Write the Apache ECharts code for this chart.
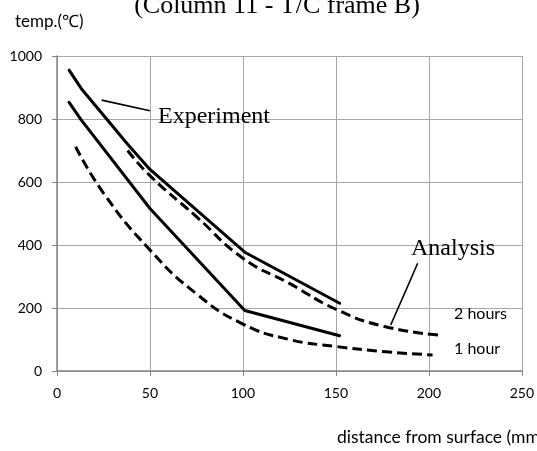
<!DOCTYPE html>
<html>
<head>
<meta charset="utf-8">
<script src="https://cdn.jsdelivr.net/npm/echarts@6/dist/echarts.min.js"></script>
<style>
  html, body { margin: 0; padding: 0; background: #fff; }
  #chart { width: 537px; height: 451px; }
</style>
</head>
<body>
<div id="chart"></div>
<script>
// Temperature profiles through the section: measured (solid) and analysed (dashed)
const xTicks = [0, 50, 100, 150, 200, 250];
const yTicks = [0, 200, 400, 600, 800, 1000];

const experiment2h = [[6.5, 955], [13, 897], [25, 812], [38, 720], [50, 640], [101, 377], [152, 215]];
const experiment1h = [[6.5, 853], [13, 797], [50, 516], [101, 192], [152, 112]];
const analysis2h = [[38, 700], [50, 620], [75, 490], [100, 358], [125, 278], [150, 196], [175, 143], [205, 114]];
const analysis1h = [[10, 712], [25, 565], [50, 384], [75, 245], [100, 149], [125, 100], [150, 78], [175, 62], [202, 51]];

// Leader lines for the callouts, in data units
const experimentLeader = [[24, 860], [50, 826]];
const analysisLeader = [[194, 342], [179.5, 146]];

const serif = '"Liberation Serif", "Times New Roman", serif';
const sans = 'Lato, "Open Sans", sans-serif';

const chart = echarts.init(document.getElementById('chart'), null, { renderer: 'canvas' });

const solid = { color: '#000', width: 3, type: 'solid', cap: 'round', join: 'round' };
const dashed = { color: '#000', width: 3, type: [10, 5], cap: 'butt', join: 'round' };

chart.setOption({
  animation: false,
  backgroundColor: '#fff',
  grid: { left: 57, right: 15, top: 56, bottom: 80, containLabel: false },
  xAxis: {
    type: 'value',
    min: xTicks[0], max: xTicks[xTicks.length - 1], interval: 50,
    axisLine: { show: true, lineStyle: { color: '#868686', width: 1.5 } },
    axisTick: { show: true, length: 5, lineStyle: { color: '#868686', width: 1 } },
    axisLabel: { color: '#000', fontFamily: sans, fontSize: 14, margin: 15, formatter: v => String(v) },
    splitLine: { show: true, lineStyle: { color: '#a6a6a6', width: 1 } }
  },
  yAxis: {
    type: 'value',
    min: yTicks[0], max: yTicks[yTicks.length - 1], interval: 200,
    axisLine: { show: true, lineStyle: { color: '#868686', width: 1.5 } },
    axisTick: { show: true, length: 5, lineStyle: { color: '#868686', width: 1 } },
    axisLabel: { color: '#000', fontFamily: sans, fontSize: 14, margin: 15, formatter: v => String(v) },
    splitLine: { show: true, lineStyle: { color: '#a6a6a6', width: 1 } }
  },
  series: [
    { name: 'Experiment 2 hours', type: 'line', data: experiment2h, symbol: 'none', lineStyle: solid, z: 3 },
    { name: 'Experiment 1 hour', type: 'line', data: experiment1h, symbol: 'none', lineStyle: solid, z: 3 },
    { name: 'Analysis 2 hours', type: 'line', data: analysis2h, symbol: 'none', smooth: 0.5, lineStyle: dashed, z: 2 },
    { name: 'Analysis 1 hour', type: 'line', data: analysis1h, symbol: 'none', smooth: 0.5, lineStyle: dashed, z: 2 }
  ]
});

function px(p) { return chart.convertToPixel({ gridIndex: 0 }, p); }
function leader(pts) {
  const a = px(pts[0]), b = px(pts[1]);
  return { type: 'line', shape: { x1: a[0], y1: a[1], x2: b[0], y2: b[1] }, style: { stroke: '#000', lineWidth: 1.6 }, z: 10 };
}
function label(text, x, y, font, size, align) {
  return {
    type: 'text', x: x, y: y, z: 11,
    style: { text: text, fill: '#000', font: size + 'px ' + font, textAlign: align || 'left', textVerticalAlign: 'bottom' }
  };
}

chart.setOption({
  graphic: [
    label('(Column 11 - T/C frame B)', 277, 19, serif, 26, 'center'),
    label('temp.(\u2103)', 15, 30, sans, 17),
    label('distance from surface (mm)', 337, 446, sans, 17.5),
    leader(experimentLeader),
    leader(analysisLeader),
    label('Experiment', 158, 129, serif, 24),
    label('Analysis', 411, 261, serif, 24),
    label('2 hours', 454, 322, sans, 16),
    label('1 hour', 454, 357, sans, 16)
  ]
});
</script>
</body>
</html>
